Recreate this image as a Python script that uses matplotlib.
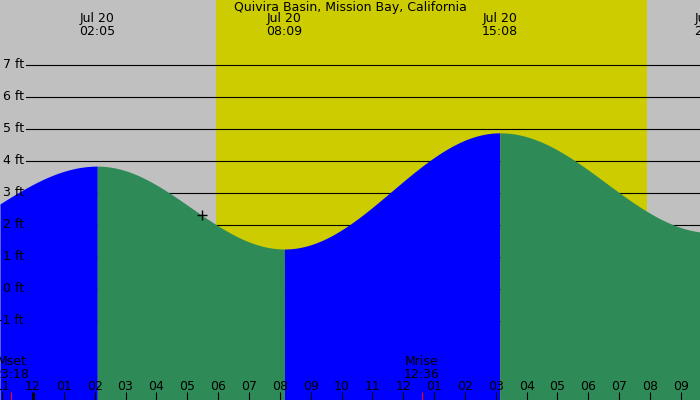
import matplotlib
matplotlib.use("Agg")
import matplotlib.pyplot as plt
import numpy as np

# Tide extremes, hours from midnight Jul 20, height in ft
tide_hours  = [-4.6, 2.083, 8.15, 15.133, 22.0]
tide_ft     = [1.25, 3.84, 1.25, 4.88, 1.76]
tide_labels = [None, "Jul 20\n02:05", "Jul 20\n08:09", "Jul 20\n15:08", "Jul 20\n22:00"]

sunrise_h = 5.93
sunset_h = 19.9
moonset_h, moonset_label = -0.7, "Mset\n23:18"
moonrise_h, moonrise_label = 12.6, "Mrise\n12:36"
now_h = 5.48

ft_levels = [7, 6, 5, 4, 3, 2, 1, 0, -1]
hour_ticks = list(range(-1, 22))

title = "Quivira Basin, Mission Bay, California"

_GRAY   = "#c0c0c0"
_YELLOW = "#cccc00"
_BLUE   = "#0000ff"
_GREEN  = "#2e8b57"

W, H = 700, 400
PX_PER_HOUR = 30.85
X0_PX = 33      # midnight
Y0_PX = 289     # 0 ft
PX_PER_FT = 32


def tide_at(t):
    # harmonic (cosine) interpolation between consecutive extremes
    i = np.searchsorted(tide_hours, t) - 1
    i = np.clip(i, 0, len(tide_hours) - 2)
    t0, t1 = np.take(tide_hours, i), np.take(tide_hours, i + 1)
    h0, h1 = np.take(tide_ft, i), np.take(tide_ft, i + 1)
    f = (t - t0) / (t1 - t0)
    return h0 + (h1 - h0) * (1 - np.cos(np.pi * f)) / 2


def yfrac(ypx):
    return 1 - ypx / H


fig = plt.figure(figsize=(7, 4), dpi=100)
ax = fig.add_axes([0, 0, 1, 1])
xmin = -X0_PX / PX_PER_HOUR
xmax = (W - X0_PX) / PX_PER_HOUR
ymax = Y0_PX / PX_PER_FT
ymin = (Y0_PX - H) / PX_PER_FT
ax.set_xlim(xmin, xmax)
ax.set_ylim(ymin, ymax)
ax.axis("off")
ax.add_patch(plt.Rectangle((xmin, ymin), xmax - xmin, ymax - ymin, color=_GRAY, zorder=0))
ax.axvspan(sunrise_h, sunset_h, color=_YELLOW, zorder=0.5, lw=0)

# grid lines + labels
for lv in ft_levels:
    ax.axhline(lv, xmin=26 / W, xmax=1, color="black", lw=0.8, zorder=1)
    ax.text(24 / PX_PER_HOUR + xmin, lv, f"{lv} ft", ha="right", va="center",
            fontsize=9, color="black", zorder=5)

# tide fill: blue rising, green falling
for i in range(len(tide_hours) - 1):
    a, b = max(tide_hours[i], xmin), min(tide_hours[i + 1], xmax)
    if a >= b:
        continue
    tt = np.linspace(a, b, 300)
    col = _BLUE if tide_ft[i + 1] > tide_ft[i] else _GREEN
    ax.fill_between(tt, tide_at(tt), ymin, color=col, lw=0, zorder=2)

ax.plot([now_h], [tide_at(now_h)], marker="+", color="black", ms=7, mew=1, zorder=6)

# top labels
xt = ax.get_xaxis_transform()
ax.text(0.5, yfrac(7), title, transform=ax.transAxes, ha="center", va="center", fontsize=9)
for t, lab in zip(tide_hours, tide_labels):
    if lab:
        ax.text(t, yfrac(25), lab, transform=xt, ha="center", va="center",
                fontsize=9, linespacing=0.95)

# hour ticks
for h in hour_ticks:
    lab = f"{(h % 12) or 12:02d}"
    ax.text(h, yfrac(386), lab, transform=xt, ha="center", va="center", fontsize=9, zorder=5)
    lw = 2.2 if h == 0 else 0.8
    ax.vlines(h, 0, 8 / H, transform=xt, color="black", lw=lw, zorder=5)

for t, lab in [(moonset_h, moonset_label), (moonrise_h, moonrise_label)]:
    ax.vlines(t, 0, 8 / H, transform=xt, color="red", lw=0.8, zorder=5)
    ax.text(t, yfrac(368), lab, transform=xt, ha="center", va="center",
            fontsize=9, linespacing=0.95, zorder=5)

fig.savefig("out.png", dpi=100)
